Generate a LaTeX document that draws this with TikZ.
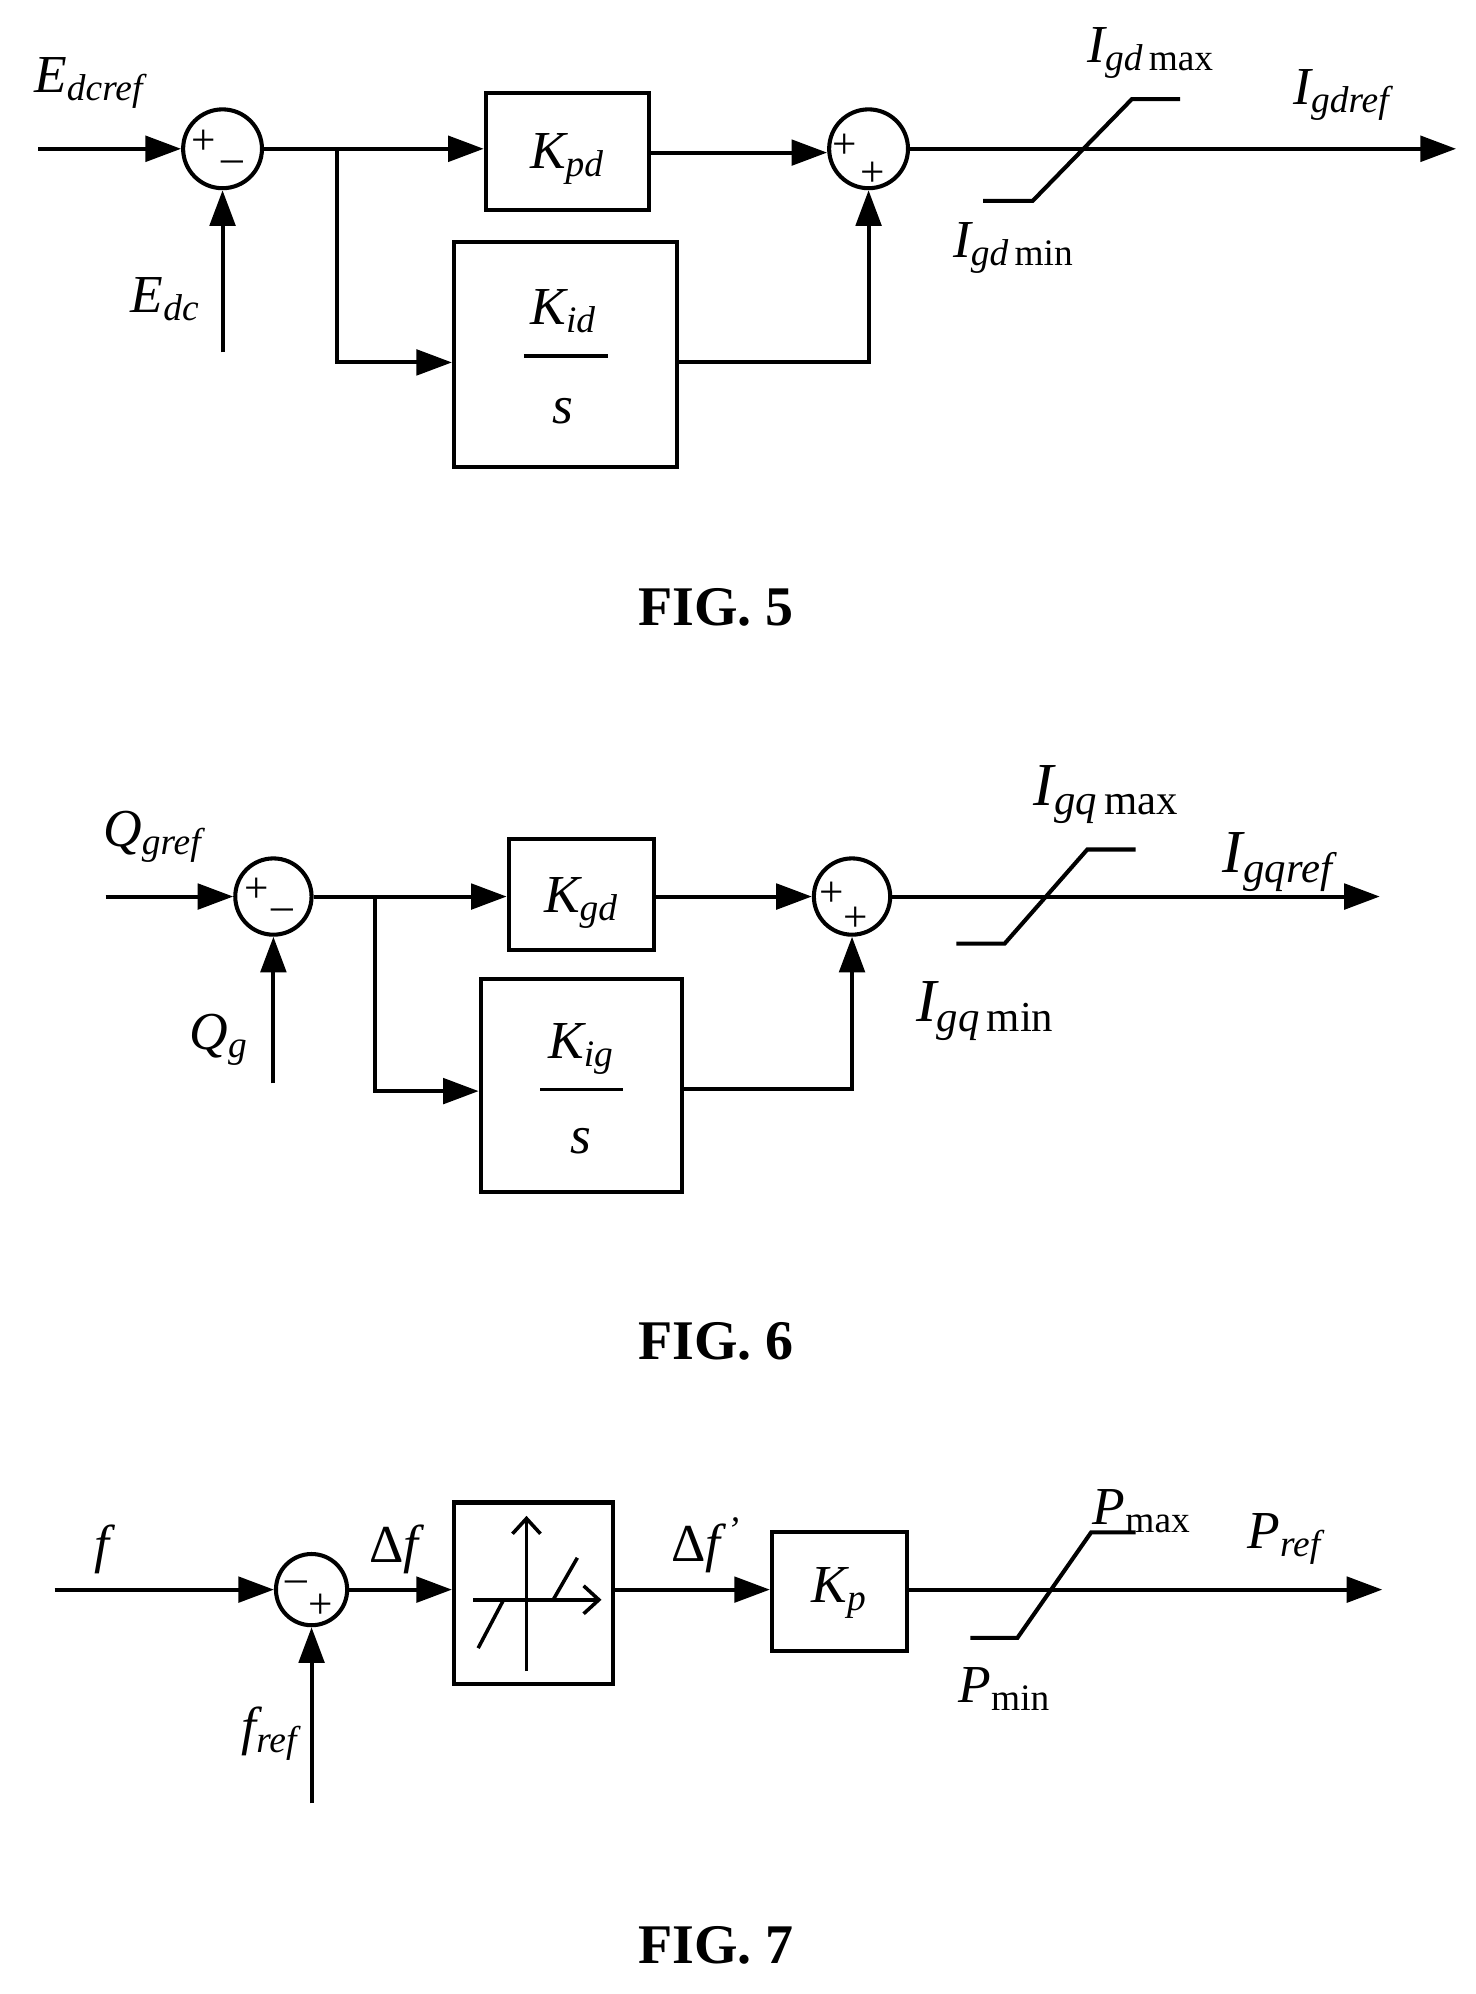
\documentclass[tikz,border=0pt]{standalone}
\usepackage{fontspec}
\setmainfont{Liberation Serif}
\usetikzlibrary{arrows.meta}
\newcommand{\sbs}[1]{\textsubscript{#1}}
\newcommand{\up}[1]{\textup{#1}}
\begin{document}
\begin{tikzpicture}[x=0.5pt,y=-0.5pt,line width=1.6pt,
  sum/.style={circle,draw,minimum size=31pt,inner sep=0pt},
  blk/.style={draw,rectangle,inner sep=0pt},
  lab/.style={font=\fontsize{21}{24}\selectfont\itshape,inner sep=0pt},
  sgn/.style={font=\fontsize{17}{18}\selectfont,inner sep=0pt},
  fig/.style={font=\fontsize{22}{26}\selectfont\bfseries,inner sep=0pt},
  ar/.style={-{Triangle[length=14pt,width=10pt]}},
  sat/.style={line width=1.6pt}]
\useasboundingbox (0,0) rectangle (1160,1568);
% ---------- FIG 5
\coordinate (a0) at (30,117);
\node[sum] (s1) at (175,117) {};
\node[sgn] at (160,112) {+}; \node[sgn] at (183,126) {\_};
\coordinate (e0) at (175,277);
\node[lab] at (130,235) {E\sbs{dc}};
\node[lab] at (70,65) {E\sbs{dcref}};
\coordinate (j1) at (265,117);
\node[blk,minimum width=64pt,minimum height=46pt] (kpd) at (446,119) {};
\node[lab] at (446,125) {K\sbs{pd}};
\node[blk,minimum width=87.5pt,minimum height=88.5pt] (kid) at (444.5,278.5) {};
\node[lab] at (443,245) {K\sbs{id}};
\draw[line width=1.3pt] (412,280)--(478,280);
\node[lab] at (443,323) {s};
\node[sum] (s2) at (683,117) {};
\node[sgn] at (664,115) {+}; \node[sgn] at (686,137) {+};
\coordinate (o1) at (1145,120);
\draw[ar] (a0) -- (s1);
\draw[ar] (e0) -- (s1);
\draw (s1) -- (j1);
\draw[ar] (j1) -- (kpd.west|-j1);
\draw[ar] (j1) |- (kid.west|-0,285);
\draw[ar] (kpd.east|-0,120) -- (s2.west|-0,120);
\draw[ar] (kid.east|-0,285) -| (s2);
\draw[ar] (s2) -- (s2.east-|o1);
\draw[sat] (773,158)--(812,158)--(890,78)--(928,78);
\node[lab] at (905,42) {I\sbs{gd\,\up{max}}};
\node[lab] at (797,195) {I\sbs{gd\,\up{min}}};
\node[lab] at (1055,75) {I\sbs{gdref}};
\node[fig] at (563,478) {FIG. 5};
% ---------- FIG 6
\coordinate (b0) at (83,705);
\node[sum,minimum size=30pt] (t1) at (215,705) {};
\node[sgn] at (202,700) {+}; \node[sgn] at (222,714) {\_};
\coordinate (q0) at (215,852);
\node[lab] at (120,658) {Q\sbs{gref}};
\node[lab] at (172,818) {Q\sbs{g}};
\coordinate (j2) at (295,705);
\node[blk,minimum width=57pt,minimum height=43.5pt] (kgd) at (457,703.5) {};
\node[lab] at (457,710) {K\sbs{gd}};
\node[blk,minimum width=79pt,minimum height=83.5pt] (kig) at (457,853.5) {};
\node[lab] at (457,825) {K\sbs{ig}};
\draw[line width=1.3pt] (425,857)--(490,857);
\node[lab] at (457,897) {s};
\node[sum,minimum size=30pt] (t2) at (670,705) {};
\node[sgn] at (654,703) {+}; \node[sgn] at (673,723) {+};
\coordinate (o2) at (1085,705);
\draw[ar] (b0) -- (t1);
\draw[ar] (q0) -- (t1);
\draw (t1) -- (j2);
\draw[ar] (j2) -- (kgd.west|-j2);
\draw[ar] (j2) |- (kig.west|-0,858);
\draw[ar] (kgd.east|-0,705) -- (t2);
\draw[ar] (kig.east|-0,856) -| (t2);
\draw[ar] (t2) -- (o2);
\draw[sat] (752,742)--(790,742)--(855,668)--(893,668);
\node[lab,font=\fontsize{24}{26}\selectfont\itshape] at (870,625) {I\sbs{gq\,\up{max}}};
\node[lab,font=\fontsize{24}{26}\selectfont\itshape] at (775,795) {I\sbs{gq\,\up{min}}};
\node[lab,font=\fontsize{24}{26}\selectfont\itshape] at (1005,678) {I\sbs{gqref}};
\node[fig] at (563,1055) {FIG. 6};
% ---------- FIG 7
\coordinate (c0) at (43,1250);
\node[sum,minimum size=28pt] (u1) at (245,1250) {};
\node[sgn] at (233,1243) {\_}; \node[sgn] at (252,1263) {+};
\coordinate (f0) at (245,1418);
\node[lab] at (80,1218) {f};
\node[lab] at (212,1363) {f\sbs{ref}};
\node[blk,minimum width=62.5pt,minimum height=71.5pt] (dz) at (419.5,1253) {};
\draw[line width=1.4pt,-{Straight Barb[length=6pt,width=11pt]}] (414,1314)--(414,1192);
\draw[line width=1.4pt,-{Straight Barb[length=6pt,width=11pt]}] (372,1258)--(473,1258);
\draw[line width=1.4pt] (376,1296)--(396,1258) (435,1258)--(454,1225);
\node[lab] at (310,1218) {\up{Δ}f};
\node[blk,minimum width=53pt,minimum height=46.5pt] (kp) at (660,1251.5) {};
\node[lab] at (660,1253) {K\sbs{p}};
\node[lab] at (555,1215) {\up{Δ}f\textsuperscript{\,'}};
\coordinate (o3) at (1087,1250);
\draw[ar] (c0) -- (u1);
\draw[ar] (f0) -- (u1);
\draw[ar] (u1) -- (dz.west|-0,1250);
\draw[ar] (dz.east|-0,1250) -- (kp.west|-0,1250);
\draw[ar] (kp.east|-0,1250) -- (o3);
\draw[sat] (763,1288)--(800,1288)--(858,1205)--(893,1205);
\node[lab] at (898,1188) {P\sbs{\up{max}}};
\node[lab] at (790,1328) {P\sbs{\up{min}}};
\node[lab] at (1010,1210) {P\sbs{ref}};
\node[fig] at (563,1530) {FIG. 7};
\end{tikzpicture}
\end{document}
